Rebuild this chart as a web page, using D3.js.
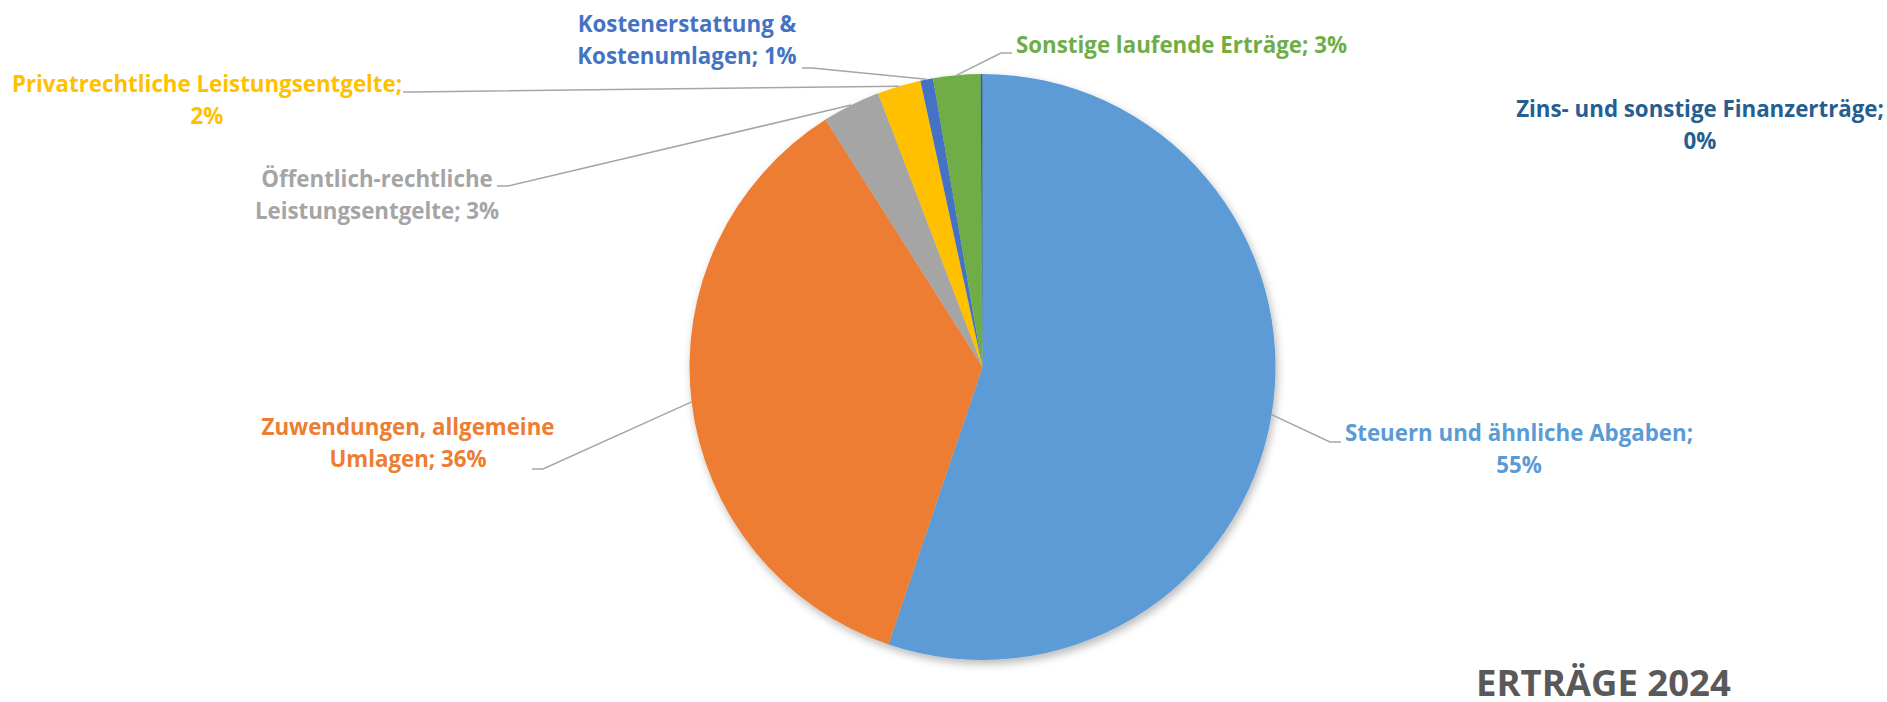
<!DOCTYPE html>
<html>
<head>
<meta charset="utf-8">
<script src="https://cdn.jsdelivr.net/npm/d3@7"></script>
<style>
  body { margin: 0; background: #fff; }
  svg { display: block; font-family: "Open Sans", sans-serif; }
</style>
</head>
<body>
<div id="chart"></div>
<script>
// Erträge 2024, shares in percent, clockwise from 12 o'clock
const categories = [
  "Steuern und ähnliche Abgaben",
  "Zuwendungen, allgemeine Umlagen",
  "Öffentlich-rechtliche Leistungsentgelte",
  "Privatrechtliche Leistungsentgelte",
  "Kostenerstattung & Kostenumlagen",
  "Sonstige laufende Erträge",
  "Zins- und sonstige Finanzerträge"
];
const shares = [55.2, 35.8, 3.2, 2.4, 0.7, 2.6, 0.1];
const colors = ["#5B9BD5", "#ED7D31", "#A5A5A5", "#FFC000", "#4472C4", "#70AD47", "#255E91"];
const title = "ERTRÄGE 2024";

// where Excel put each label: centre x, first baseline, words on line 1,
// and end / elbow x of the leader line (null = no leader)
const labelLayout = [
  { x: 1519, y: 441, wrap: 4, anchor: "middle", lineEnd: 1341, elbow: 1330, lineY: 442 },
  { x: 408,  y: 435, wrap: 2, anchor: "middle", lineEnd: 532,  elbow: 543,  lineY: 469 },
  { x: 377,  y: 187, wrap: 1, anchor: "middle", lineEnd: 497,  elbow: 508,  lineY: 186 },
  { x: 207,  y: 92,  wrap: 2, anchor: "middle", lineEnd: 403,  elbow: 413,  lineY: 92 },
  { x: 687,  y: 32,  wrap: 2, anchor: "middle", lineEnd: 802,  elbow: 812,  lineY: 68 },
  { x: 1016, y: 53,  wrap: 99, anchor: "start", lineEnd: 1012, elbow: 1001, lineY: 53 },
  { x: 1700, y: 117, wrap: 4, anchor: "middle", lineEnd: null }
];

const width = 1887,
  height = 702,
  cx = 982.5,
  cy = 367,
  radius = 293,
  lineHeight = 32;

const data = categories.map((name, i) => ({ name: name, value: shares[i], color: colors[i], layout: labelLayout[i] }));

const arcs = d3.pie().sort(null).value(d => d.value)(data);
const arc = d3.arc().innerRadius(0).outerRadius(radius);
const edge = d3.arc().innerRadius(radius).outerRadius(radius);

const svg = d3.select("#chart")
  .append("svg")
  .attr("width", width)
  .attr("height", height);

const defs = svg.append("defs");
defs.append("filter")
  .attr("id", "shadow")
  .attr("x", "-10%").attr("y", "-10%")
  .attr("width", "120%").attr("height", "120%")
  .append("feDropShadow")
  .attr("dx", 2)
  .attr("dy", 4)
  .attr("stdDeviation", 4)
  .attr("flood-color", "#000")
  .attr("flood-opacity", 0.28);

const pie = svg.append("g")
  .attr("transform", `translate(${cx},${cy})`);

pie.append("g")
  .attr("filter", "url(#shadow)")
  .selectAll("path")
  .data(arcs)
  .join("path")
  .attr("fill", d => d.data.color)
  .attr("d", arc);

// leader lines: from the slice's outer edge to an elbow, then flat to the label
const midPoint = d => {
  const [x, y] = edge.centroid(d);
  return [x + cx, y + cy];
};

svg.append("g")
  .attr("fill", "none")
  .attr("stroke", "#A6A6A6")
  .attr("stroke-width", 1.5)
  .selectAll("polyline")
  .data(arcs.filter(d => d.data.layout.lineEnd != null))
  .join("polyline")
  .attr("points", d => {
    const l = d.data.layout;
    return [midPoint(d), [l.elbow, l.lineY], [l.lineEnd, l.lineY]].map(p => p.join(",")).join(" ");
  });

const pct = d3.format(".0f");

svg.append("g")
  .attr("font-size", 22.3)
  .attr("font-weight", "bold")
  .selectAll("text")
  .data(arcs)
  .join("text")
  .attr("fill", d => d.data.color)
  .attr("text-anchor", d => d.data.layout.anchor)
  .attr("transform", d => `translate(${d.data.layout.x},${d.data.layout.y})`)
  .selectAll("tspan")
  .data(d => {
    const words = `${d.data.name}; ${pct(d.data.value)}%`.split(" ");
    const n = d.data.layout.wrap;
    return [words.slice(0, n).join(" "), words.slice(n).join(" ")].filter(s => s.length);
  })
  .join("tspan")
  .attr("x", 0)
  .attr("y", (d, i) => i * lineHeight)
  .text(d => d);

svg.append("text")
  .attr("x", 1476)
  .attr("y", 696)
  .attr("font-size", 36.5)
  .attr("font-weight", "bold")
  .attr("fill", "#595959")
  .text(title);
</script>
</body>
</html>
